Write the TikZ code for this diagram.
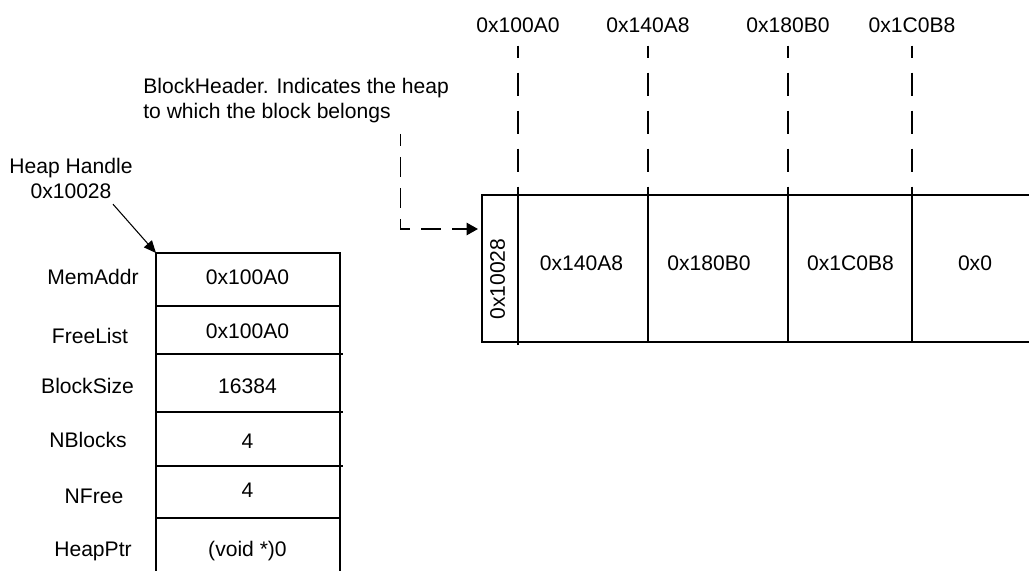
\documentclass[tikz,border=0pt]{standalone}
\usepackage{fontspec}
\setmainfont{Liberation Sans}
\usetikzlibrary{arrows.meta}

\begin{document}
\begin{tikzpicture}[
    x=0.02cm,y=-0.02cm,
    txt/.style={font=\fontsize{12}{14.23}\selectfont,inner sep=0pt,align=center},
    wall/.style={line width=1.1pt},
    guide/.style={line width=1.1pt,dash pattern=on 0.46cm off 0.30cm,dash phase=0.22cm},
    hint/.style={line width=1.1pt,dash pattern=on 0.40cm off 0.22cm,dash phase=0.16cm,-{Triangle[length=6.5pt,width=7pt]}},
    ptr/.style={line width=0.6pt,-{Triangle[length=7pt,width=6pt]}}
  ]
    \fill[white] (0,0) rectangle (1029,571);
    \useasboundingbox (0,0) rectangle (1029,571);

    % heap handle table
    \node[txt,anchor=north] (handle) at (71,158) {Heap Handle\\0x10028};
    \coordinate (tbl) at (156,253);
    \draw[wall] (156,580) -- (tbl) -- (340,253) -- (340,580);
    \foreach \y/\r in {306/340,354/342.5,412/342.5,466/342.5,518/340}
      \draw[wall] (156,\y) -- (\r,\y);
    \foreach \fld/\fx/\fy/\val/\vy [count=\i] in {MemAddr/93/284.5/0x100A0/284.5,FreeList/90/343/0x100A0/338.5,BlockSize/87.5/393.5/16384/393.5,NBlocks/88/447/4/448.5,NFree/94/503/4/497,HeapPtr/93/556/{(void *)0}/556}{
      \node[txt,anchor=base] (f\i) at (\fx,\fy) {\fld};
      \node[txt,anchor=base] (v\i) at (247.5,\vy) {\val};
    }
    \draw[ptr] (handle.south) ++(42,5) -- (tbl);

    % memory block
    \draw[wall] (1040,195) -- (482,195) -- (482,342) -- (1040,342);
    \draw[wall] (518,195) -- (518,345);
    \foreach \x in {648,788,912}
      \draw[wall] (\x,195) -- (\x,342);
    \node[txt,rotate=90] (hdr) at (497.5,279) {0x10028};
    \foreach \val/\x [count=\i] in {0x140A8/581.5,0x180B0/709,0x1C0B8/850.5,0x0/975}
      \node[txt,anchor=base] (c\i) at (\x,270.5) {\val};

    % block addresses
    \foreach \val/\x [count=\i] in {0x100A0/518,0x140A8/648,0x180B0/788,0x1C0B8/912}{
      \node[txt,anchor=base] (a\i) at (\x,32.5) {\val};
      \coordinate (d\i) at (\x,195);
      \draw[guide] (a\i.south) ++(0,12.5) -- (d\i);
    }

    % block header note
    \node[txt,anchor=north west,align=left] (bhdr) at (143,78) {BlockHeader. Indicates the heap\\to which the block belongs};
    \coordinate (bhcol) at (400.5,0);
    \coordinate (hdrin) at (478,229);
    \draw[hint] (bhdr.south -| bhcol) ++(0,10.5) |- (hdrin);
  \end{tikzpicture}
\end{document}
